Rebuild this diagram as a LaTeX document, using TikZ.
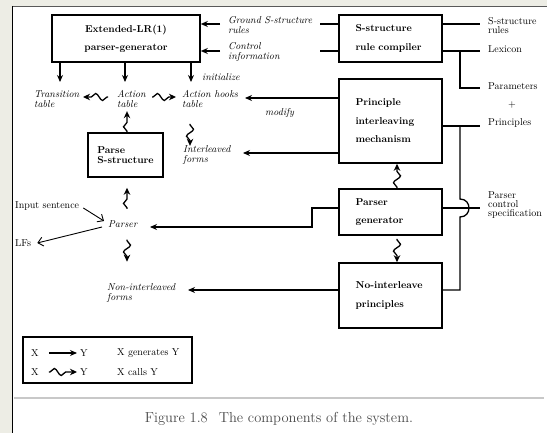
\documentclass[tikz,border=0pt]{standalone}
\usetikzlibrary{arrows.meta,decorations.pathmorphing,calc}
\definecolor{bgout}{HTML}{EDEDE5}
\definecolor{caprule}{HTML}{C8C8C8}
\definecolor{capgray}{HTML}{4A4A4A}
\begin{document}
\begin{tikzpicture}[x=1pt,y=-1pt,
  box/.style={draw, line width=1.6pt, font=\bfseries\fontsize{10}{12}\selectfont, inner sep=0pt},
  rbox/.style={box, minimum width=103pt, text width=70pt, align=left},
  itl/.style={font=\itshape\fontsize{10}{10}\selectfont, inner sep=0pt, anchor=west, align=left},
  upl/.style={font=\fontsize{10}{9}\selectfont, inner sep=0pt, anchor=west, align=left},
  gen/.style={line width=1.4pt, -{Stealth[length=7pt,width=6pt]}},
  wire/.style={line width=1.3pt},
  calls/.style={line width=1.3pt, decorate, decoration={snake, amplitude=3.5pt, segment length=14pt, pre length=1pt, post length=5pt}, -{Stealth[length=7pt,width=6.5pt]}},
  inarr/.style={line width=0.9pt, -{Straight Barb[length=5pt,width=9pt]}}
]
\useasboundingbox (0,0) rectangle (547,433);
% page background
\fill[bgout] (0,0) rectangle (547,433);
\fill[white] (12.5,6.5) rectangle (547,433);
\draw[gray!70!black, line width=1pt] (12,6.5) -- (547,6.5);
\draw[black, line width=1.3pt] (12.5,6) -- (12.5,433);

% boxes
\node[box, minimum width=148pt, minimum height=47pt, align=center] (ext) at (126,38.5) {Extended-LR(1)\\[6pt]parser-generator};
\node[rbox, minimum height=47pt] (comp) at (390.5,38.5) {S-structure\\[7pt]rule compiler};
\node[rbox, minimum height=84pt] (pim) at (390.5,121) {Principle\\[6.5pt]interleaving\\[6.5pt]mechanism};
\node[rbox, minimum height=46pt] (pgen) at (390.5,212) {Parser\\[6pt]generator};
\node[rbox, minimum height=65pt] (noint) at (390.5,295.5) {No-interleave\\[7pt]principles};
\node[box, minimum width=75pt, minimum height=44pt, align=left, font=\bfseries\fontsize{10}{10.5}\selectfont] (pss) at (125.5,155) {Parse\\S-structure};

% italic labels
\node[itl] (trans) at (34,99) {Transition\\table};
\node[itl] (acttab) at (117,99) {Action\\table};
\node[itl] (hooks) at (182,99) {Action hooks\\table};
\node[itl] (interl) at (183,155) {Interleaved\\forms};
\node[itl] (parser) at (108,224) {Parser};
\node[itl] (nonint) at (107,293) {Non-interleaved\\forms};
\node[itl] (ground) at (228,25) {Ground S-structure\\rules};
\node[itl] (control) at (228,52) {Control\\information};
\node[itl] (init) at (202,77) {initialize};
\node[itl] (modify) at (265,113) {modify};

% upright labels
\node[upl] (srules) at (488,26) {S-structure\\rules};
\node[upl] (lex) at (488,49) {Lexicon};
\node[upl] (params) at (488,86) {Parameters};
\node[font=\fontsize{10}{10}\selectfont, inner sep=0pt] (plus) at (512,105) {+};
\node[upl] (princ) at (488,123) {Principles};
\node[upl] (pcs) at (488,205) {Parser\\control\\specification};
\node[upl] (insent) at (15,206) {Input sentence};
\node[upl] (lfs) at (15,243) {LFs};

% coordinates for free ends
\coordinate (gL) at (320,24); \coordinate (gR) at (220,24);
\coordinate (cL) at (320,51); \coordinate (cR) at (220,51);
\coordinate (sr) at (480,24); \coordinate (lx) at (480,51);
\coordinate (pa) at (480,88); \coordinate (pr) at (480,126);
\coordinate (ps) at (480,208);
\coordinate (j1) at (460,51); \coordinate (j2) at (460,126);
\coordinate (hopT) at (460,199); \coordinate (hopB) at (460,217);
\coordinate (nR) at (460,290);
\coordinate (pg1) at (312,208); \coordinate (pg2) at (312,227);
\coordinate (pt) at (150,227);
\coordinate (hk) at (245,98); \coordinate (il) at (243,153); \coordinate (ni) at (188,290);
\coordinate (t1) at (60,82); \coordinate (t2) at (125,82); \coordinate (t3) at (191,82);

% compiler outputs / inputs
\draw[wire] (comp.west |- gL) -- (gL);
\draw[gen] (gR) -- (ext.east |- gR);
\draw[wire] (comp.west |- cL) -- (cL);
\draw[gen] (cR) -- (ext.east |- cR);
\draw[wire] (comp.east |- sr) -- (sr);
\draw[wire] (comp.east |- lx) -- (lx);
\draw[wire] (j1) |- (pa);
\draw[wire] (pim.east |- pr) -- (pr);
\draw[wire] (j2) -- (hopT) .. controls (472,199) and (472,217) .. (hopB) -- (nR) -- (noint.east |- nR);
\draw[wire] (pgen.east |- ps) -- (ps);

% generation arrows
\draw[gen] (ext.south -| t1) -- (t1);
\draw[gen] (ext.south -| t2) -- (t2);
\draw[gen] (ext.south -| t3) -- (t3);
\draw[gen] (pim.west |- hk) -- (hk);
\draw[gen] (pim.west |- il) -- (il);
\draw[gen] (noint.west |- ni) -- (ni);
\draw[gen] (pgen.west |- pg1) -- (pg1) -- (pg2) -- (pt);

% calls
\draw[calls] ([shift={(-9,-2)}]acttab.west) -- ([shift={(-34,-2)}]acttab.west);
\draw[calls] ([shift={(-30,-2)}]hooks.west) -- ([shift={(-6,-2)}]hooks.west);
\draw[calls] ([xshift=1.5pt]pss.north) -- ++(0,-21);
\draw[calls] ([xshift=1.5pt]pss.south) ++(0,31) -- ++(0,-21);
\draw[calls] ([shift={(8,16)}]hooks.south west) -- ++(0,22);
\draw[calls] ([shift={(19,12)}]parser.south west) -- ++(0,22);
\draw[calls] ([xshift=6.5pt]pgen.north) -- ([xshift=6.5pt]pim.south);
\draw[calls] ([shift={(6.5,3)}]pgen.south) -- ([xshift=6.5pt]noint.north);

% input / output
\draw[inarr] ([shift={(4,2)}]insent.east) -- ([shift={(-4,-3)}]parser.west);
\draw[inarr] ([shift={(-6,3)}]parser.west) -- ([shift={(6,0)}]lfs.east);

% legend
\node[draw, line width=1.6pt, minimum width=169pt, minimum height=46pt, inner sep=0pt] (legend) at (107.5,360) {};
\node[upl] (lx1) at (31,353) {X};
\node[upl] (ly1) at (80,353) {Y};
\node[upl] (lg1) at (117,353) {X generates Y};
\node[upl] (lx2) at (31,372) {X};
\node[upl] (ly2) at (80,372) {Y};
\node[upl] (lg2) at (117,372) {X calls Y};
\draw[gen] ([xshift=10pt]lx1.east) -- ([xshift=-3pt]ly1.west);
\draw[calls] ([xshift=10pt]lx2.east) -- ([xshift=-3pt]ly2.west);

% caption
\draw[caprule, line width=1.6pt] (14,398) -- (544,398);
\node[font=\fontsize{14.5}{16}\selectfont, text=capgray, inner sep=0pt] (cap) at (279,419) {Figure 1.8\hspace{11pt}The components of the system.};
\end{tikzpicture}
\end{document}
